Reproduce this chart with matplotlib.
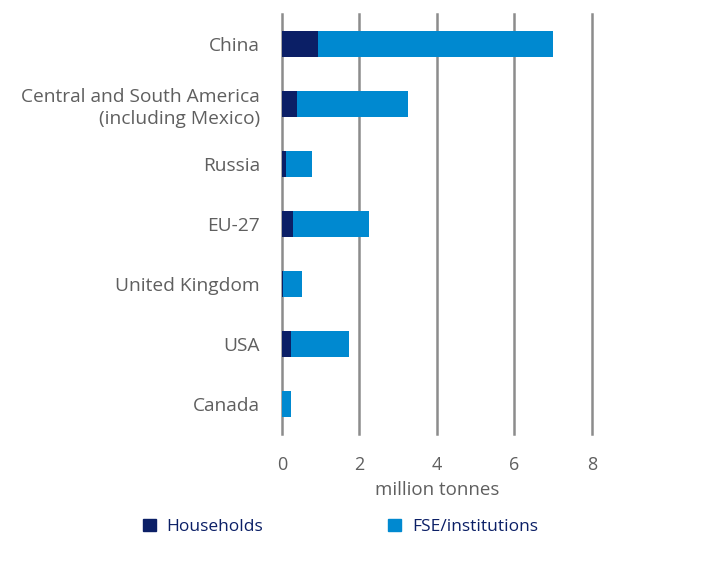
import matplotlib
matplotlib.use("Agg")
import matplotlib.pyplot as plt
from matplotlib.patches import Patch

plt.rcParams['font.family'] = ['Open Sans', 'DejaVu Sans']

# ====== DATA ======
regions = ["China", "Central and South America\n(including Mexico)", "Russia",
           "EU-27", "United Kingdom", "USA", "Canada"]
households = [0.92, 0.40, 0.10, 0.29, 0.02, 0.23, 0.0]
fse_institutions = [6.08, 2.86, 0.67, 1.96, 0.50, 1.51, 0.23]
x_ticks = [0, 2, 4, 6, 8]

dark = "#0b1f66"
light = "#0089d0"
grey_txt = "#5f5f5f"

fig = plt.figure(figsize=(7.02, 5.69), dpi=100)
ax = fig.add_axes([0.4017, 0.2373, 0.4416, 0.7381])

ypos = list(range(len(regions)))
ax.barh(ypos, households, height=0.42, color=dark, zorder=3)
ax.barh(ypos, fse_institutions, left=households, height=0.42, color=light, zorder=3)

ax.set_xlim(0, 8)
ax.set_ylim(len(regions) - 0.5, -0.5)
ax.set_xticks(x_ticks)
ax.set_xticklabels([str(t) for t in x_ticks], fontsize=13, color=grey_txt)
ax.set_yticks(ypos)
ax.set_yticklabels(regions, fontsize=13.8, color=grey_txt, linespacing=1.3)
ax.tick_params(axis='y', length=0, pad=16)
ax.tick_params(axis='x', length=0, pad=16)
for t in x_ticks:
    ax.axvline(t, color="#8c8c8c", lw=1.8, zorder=2, clip_on=False)
for s in ax.spines.values():
    s.set_visible(False)

ax.set_xlabel("million tonnes", fontsize=13.5, color=grey_txt, labelpad=5)

handles = [Patch(color=dark, label="Households"), Patch(color=light, label="FSE/institutions")]
fig.legend(handles=handles, loc="center", bbox_to_anchor=(0.485, 0.074), ncol=2,
           frameon=False, fontsize=12.5, columnspacing=7.2, handlelength=0.75,
           handleheight=0.75, handletextpad=0.6, labelcolor=dark)

plt.savefig("out.png", dpi=100)
